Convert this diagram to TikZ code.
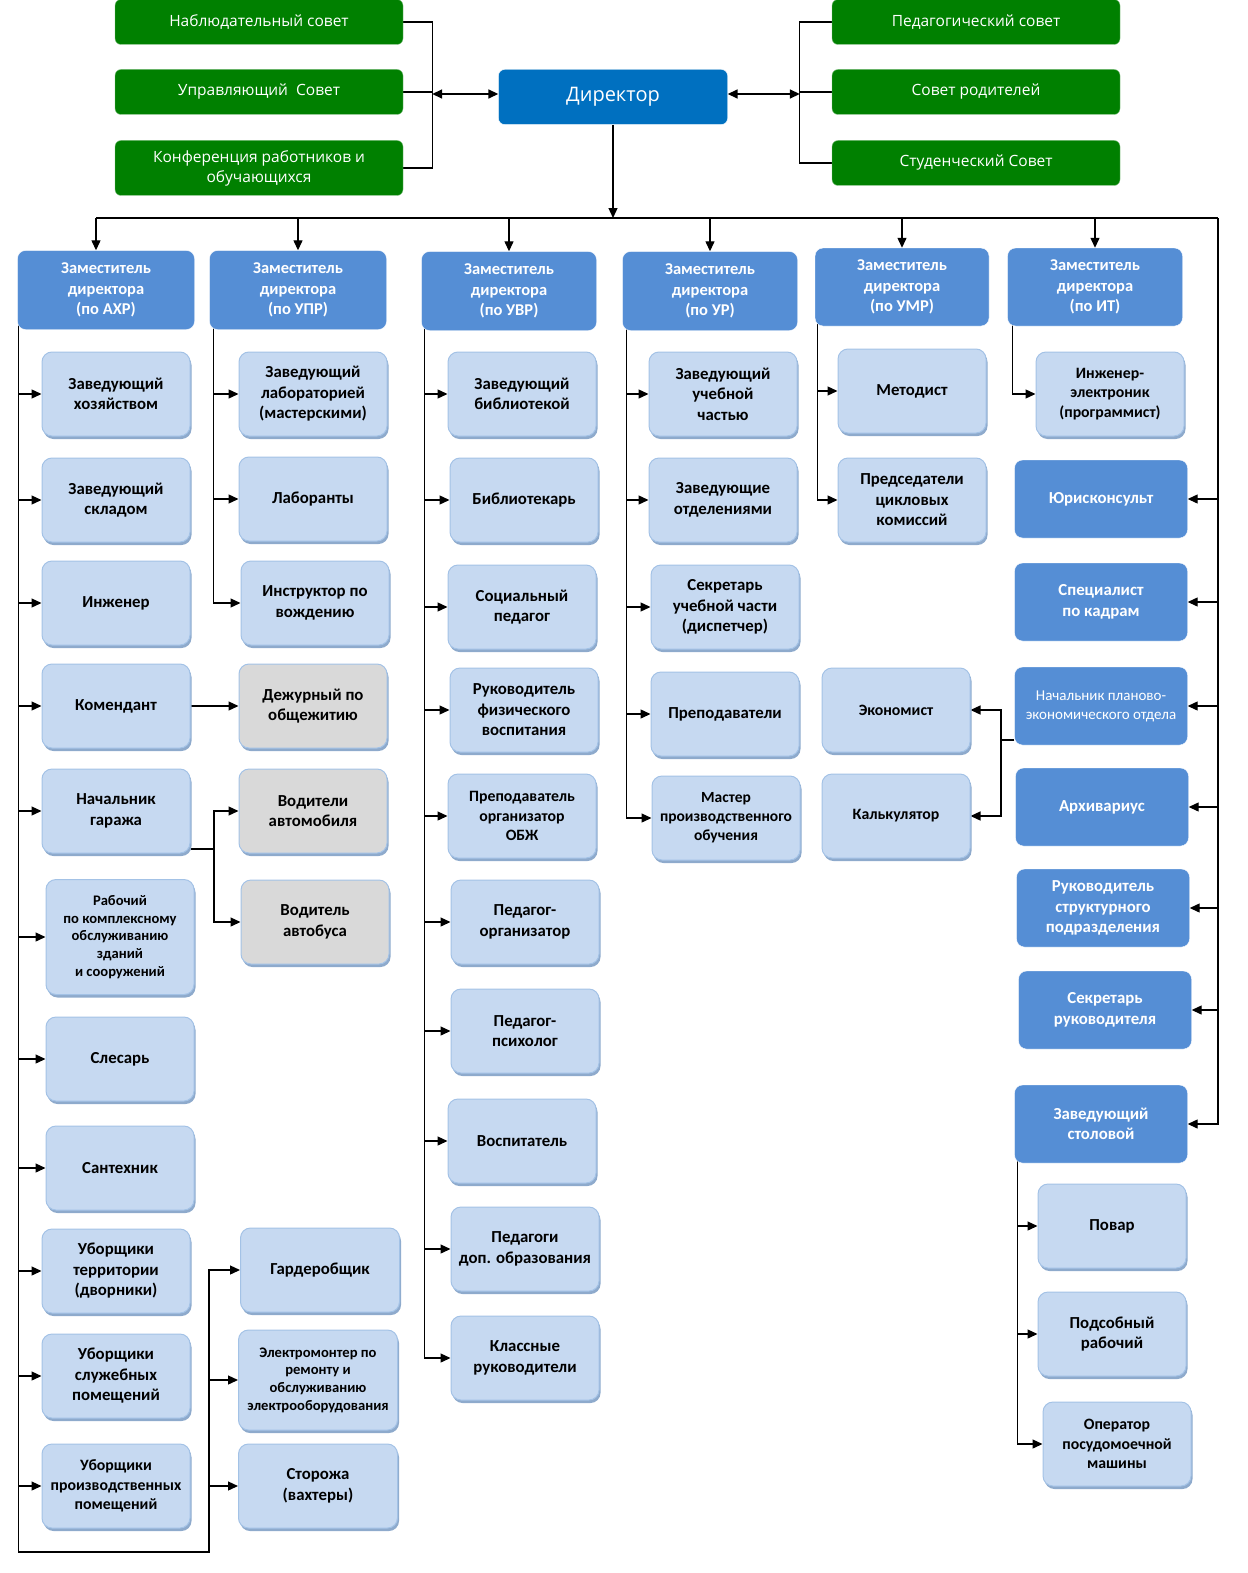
\documentclass[tikz,border=0pt]{standalone}
\usepackage{fontspec}
\setmainfont{Carlito}
\newfontfamily\councilfont{Open Sans}
\usetikzlibrary{positioning,calc,arrows.meta,shadows,backgrounds}

\definecolor{councilgreen}{HTML}{008000}
\definecolor{councilrim}{HTML}{7FBF7F}
\definecolor{dirblue}{HTML}{0070C0}
\definecolor{depblue}{HTML}{558ED5}
\definecolor{staffblue}{HTML}{C6D9F1}
\definecolor{staffrim}{HTML}{A3C2E6}
\definecolor{staffshade}{HTML}{8EAACC}
\definecolor{dutygray}{HTML}{D9D9D9}

\begin{document}
\begin{tikzpicture}[x=1pt, y=-1pt,
    council/.style={rounded corners=6pt, fill=councilgreen, draw=councilrim, text=white,
        minimum width=288pt, minimum height=45pt, align=center, inner sep=0pt,
        font=\councilfont\fontsize{15.5}{20}\selectfont},
    boss/.style={rounded corners=6pt, fill=dirblue, draw=white, text=white,
        minimum width=229pt, minimum height=55pt, inner sep=0pt,
        font=\councilfont\fontsize{20}{24}\selectfont},
    deputy/.style={rounded corners=8pt, fill=depblue, draw=white, text=white,
        minimum width=177pt, minimum height=79pt, align=center, inner sep=0pt,
        font=\bfseries\fontsize{16.5}{20.5}\selectfont},
    office/.style={deputy, minimum width=173pt, minimum height=78pt,
        font=\bfseries\fontsize{16.8}{20.5}\selectfont},
    staff/.style={rounded corners=10pt, fill=staffblue, draw=staffrim, line width=1pt,
        minimum width=148pt, minimum height=84pt, align=center, inner sep=0pt,
        drop shadow={shadow xshift=1.5pt, shadow yshift=-3pt, fill=staffshade, opacity=1},
        font=\bfseries\fontsize{16.8}{20.5}\selectfont},
    duty/.style={staff, fill=dutygray},
    small/.style={font=\bfseries\fontsize{14.6}{17.7}\selectfont},
    mid/.style={font=\bfseries\fontsize{15.8}{19.5}\selectfont},
    link/.style={line width=1.3pt},
    arr/.style={link, -{Triangle[length=10pt,width=9pt]}},
    dbl/.style={line width=1.6pt, {Triangle[length=10pt,width=9pt]}-{Triangle[length=10pt,width=9pt]}}]

\useasboundingbox (0,0) rectangle (1247,1573);

% councils and director
\node[council] (nab) at (259,22) {Наблюдательный совет};
\node[council] (upravl) at (259,92) {Управляющий\ \ Совет};
\node[council, minimum height=55pt] (konf) at (259,168) {Конференция работников и\\обучающихся};
\node[council] (ped) at (976,22) {Педагогический совет};
\node[council] (sovrod) at (976,92) {Совет родителей};
\node[council] (stud) at (976,163) {Студенческий Совет};
\node[boss] (dir) at (613,97) {Директор};

% deputies
\node[deputy] (axr) at (106,290) {Заместитель\\директора\\(по АХР)};
\node[deputy] (upr) at (298,290) {Заместитель\\директора\\(по УПР)};
\node[deputy, minimum width=175pt] (uvr) at (509,291) {Заместитель\\директора\\(по УВР)};
\node[deputy, minimum width=175pt] (ur) at (710,291) {Заместитель\\директора\\(по УР)};
\node[deputy, minimum width=174pt, minimum height=78pt] (umr) at (902,287) {Заместитель\\директора\\(по УМР)};
\node[deputy, minimum width=175pt, minimum height=78pt] (it) at (1095,287) {Заместитель\\директора\\(по ИТ)};

% AXR
\node[staff] (a1) at (116,394) {Заведующий\\хозяйством};
\node[staff] (a2) at (116,500) {Заведующий\\складом};
\node[staff] (a3) at (116,603) {Инженер};
\node[staff] (a4) at (116,706) {Комендант};
\node[staff] (a5) at (116,811) {Начальник\\гаража};
\node[staff, small, minimum height=115pt] (a6) at (120,937) {Рабочий\\по комплексному\\обслуживанию\\зданий\\и сооружений};
\node[staff] (a7) at (120,1059) {Слесарь};
\node[staff] (a8) at (120,1168) {Сантехник};
\node[staff] (a9) at (116,1271) {Уборщики\\территории\\(дворники)};
\node[staff] (a10) at (116,1376) {Уборщики\\служебных\\помещений};
\node[staff, mid] (a11) at (116,1486) {Уборщики\\производственных\\помещений};
\node[duty] (d1) at (313,706) {Дежурный по\\общежитию};
\node[duty] (d2) at (313,811) {Водители\\автомобиля};
\node[duty] (d3) at (315,922) {Водитель\\автобуса};
\node[staff, minimum width=159pt] (g1) at (320,1270) {Гардеробщик};
\node[staff, small, minimum width=159pt, minimum height=100pt] (g2) at (318,1380) {Электромонтер по\\ремонту и\\обслуживанию\\электрооборудования};
\node[staff, minimum width=159pt] (g3) at (318,1486) {Сторожа\\(вахтеры)};

% UPR
\node[staff] (p1) at (313,394) {Заведующий\\лабораторией\\(мастерскими)};
\node[staff] (p2) at (313,499) {Лаборанты};
\node[staff] (p3) at (315,603) {Инструктор по\\вождению};

% UVR
\node[staff] (v1) at (522,394) {Заведующий\\библиотекой};
\node[staff] (v2) at (524,500) {Библиотекарь};
\node[staff] (v3) at (522,607) {Социальный\\педагог};
\node[staff] (v4) at (524,710) {Руководитель\\физического\\воспитания};
\node[staff, mid] (v5) at (522,816) {Преподаватель\\организатор\\ОБЖ};
\node[staff] (v6) at (525,922) {Педагог-\\организатор};
\node[staff] (v7) at (525,1031) {Педагог-\\психолог};
\node[staff] (v8) at (522,1141) {Воспитатель};
\node[staff] (v9) at (525,1249) {Педагоги\\доп. образования};
\node[staff] (v10) at (525,1358) {Классные\\руководители};

% UR
\node[staff] (u1) at (723,394) {Заведующий\\учебной\\частью};
\node[staff] (u2) at (723,500) {Заведующие\\отделениями};
\node[staff] (u3) at (725,607) {Секретарь\\учебной части\\(диспетчер)};
\node[staff] (u4) at (725,714) {Преподаватели};
\node[staff, font=\bfseries\fontsize{15.5}{19}\selectfont] (u5) at (726,818) {Мастер\\производственного\\обучения};

% UMR
\node[staff] (m1) at (912,391) {Методист};
\node[staff] (m2) at (912,500) {Председатели\\цикловых\\комиссий};
\node[staff, mid] (e1) at (896,710) {Экономист};
\node[staff, mid] (e2) at (896,816) {Калькулятор};

% IT
\node[staff, mid] (i1) at (1110,394) {Инженер-\\электроник\\(программист)};

% right column
\node[office] (r1) at (1101,499) {Юрисконсульт};
\node[office] (r2) at (1101,602) {Специалист\\по кадрам};
\node[office, font=\fontsize{15}{19}\selectfont] (r3) at (1101,706) {Начальник планово-\\экономического отдела};
\node[office] (r4) at (1102,807) {Архивариус};
\node[office] (r5) at (1103,908) {Руководитель\\структурного\\подразделения};
\node[office] (r6) at (1105,1010) {Секретарь\\руководителя};
\node[office] (r7) at (1101,1124) {Заведующий\\столовой};
\node[staff] (s1) at (1112,1226) {Повар};
\node[staff] (s2) at (1112,1334) {Подсобный\\рабочий};
\node[staff, mid] (s3) at (1117,1444) {Оператор\\посудомоечной\\машины};

\coordinate (busL) at (96,218);
\coordinate (busR) at (1218,218);
\coordinate (axrturn) at (209,1552);
\coordinate (garj) at (214,849);
\coordinate (ecoj) at (1001,740);

\begin{scope}[on background layer]
% top
\draw[link] (nab.east) -- ++(29,0) |- (konf.east);
\draw[link] (upravl.east) -- ++(29,0);
\draw[dbl] ($(upravl.east)+(29,2)$) -- (dir.west |- 0,94);
\draw[link] (ped.west) -- ++(-32,0) |- (stud.west);
\draw[link] (sovrod.west) -- ++(-32,0);
\draw[dbl] (dir.east |- 0,94) -- ($(sovrod.west)+(-32,2)$);
\draw[arr] (dir.south) -- (dir.south |- busL);
\draw[link] (busL) -- (busR);
\draw[arr] (busL) -- (busL |- axr.north);
\foreach \d in {upr,uvr,ur,umr,it}
    \draw[arr] (\d.north |- busL) -- (\d.north);
% deputies to staff
\foreach \s in {a1,a2,a3,a4,a5,a6,a7,a8,a9,a10,a11}
    \draw[arr] (axr.south west) ++(1,-10) |- (\s.west);
\draw[arr] (axr.south west) ++(1,-10) |- (axrturn) |- (g1.west);
\draw[arr] (axrturn) |- (g2.west);
\draw[arr] (axrturn) |- (g3.west);
\draw[arr] (a4.east) -- (d1.west);
\draw[link] (a5.east |- garj) -- (garj);
\draw[arr] (garj) |- (d2.west);
\draw[arr] (garj) |- (d3.west);
\foreach \s in {p1,p2,p3}
    \draw[arr] (upr.south west) ++(4,-10) |- (\s.west);
\foreach \s in {v1,v2,v3,v4,v5,v6,v7,v8,v9,v10}
    \draw[arr] (uvr.south west) ++(3,-10) |- (\s.west);
\foreach \s in {u1,u2,u3,u4,u5}
    \draw[arr] (ur.south west) ++(4,-10) |- (\s.west);
\foreach \s in {m1,m2}
    \draw[arr] (umr.south west) ++(3,-10) |- (\s.west);
\draw[arr] (it.south west) ++(5,-10) |- (i1.west);
\foreach \r in {r1,r2,r3,r4,r5,r6,r7}
    \draw[arr] (busR) |- (\r.east);
\draw[link] (r3.west |- ecoj) -- (ecoj);
\draw[arr] (ecoj) |- (e1.east);
\draw[arr] (ecoj) |- (e2.east);
\foreach \s in {s1,s2,s3}
    \draw[arr] (r7.south west) ++(3,-10) |- (\s.west);
\end{scope}
\end{tikzpicture}
\end{document}
